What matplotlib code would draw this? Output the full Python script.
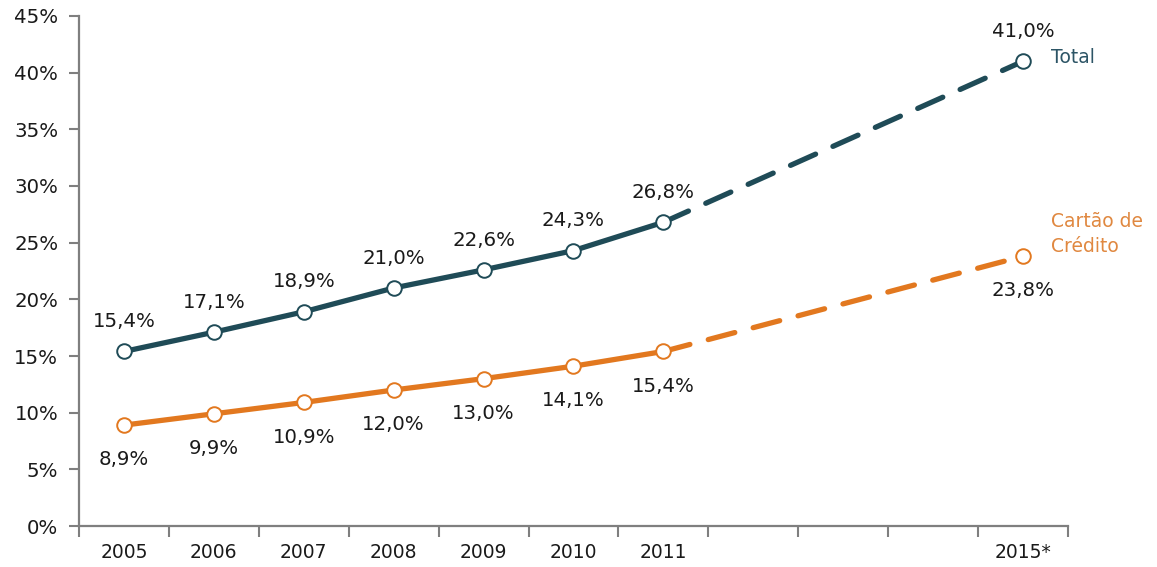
import matplotlib
matplotlib.use("Agg")
import matplotlib.pyplot as plt
import numpy as np

categories = ["2005", "2006", "2007", "2008", "2009", "2010", "2011", "", "", "", "2015*"]
total = [15.4, 17.1, 18.9, 21.0, 22.6, 24.3, 26.8, None, None, None, 41.0]
cartao = [8.9, 9.9, 10.9, 12.0, 13.0, 14.1, 15.4, None, None, None, 23.8]
yticks = [0, 5, 10, 15, 20, 25, 30, 35, 40, 45]

TEAL = "#1f4b57"
ORANGE = "#e2781f"
TEXT = "#1a1a1a"
AXIS = "#7f7f7f"

plt.rcParams['font.family'] = ['DejaVu Sans']

fig = plt.figure(figsize=(11.57, 5.67), dpi=100)
ax = fig.add_axes([0.0683, 0.0723, 0.8547, 0.8995])

x = np.arange(len(categories))

def draw(series, color, label_off):
    idx = [i for i, v in enumerate(series) if v is not None]
    solid = [i for i in idx if i <= 6]
    ax.plot(solid, [series[i] for i in solid], color=color, lw=3.8,
            solid_capstyle='round', zorder=2)
    last = solid[-1]
    fut = idx[-1]
    ax.plot([last, fut], [series[last], series[fut]], color=color, lw=3.8,
            linestyle=(0, (5.2, 3.6)), dash_capstyle='round', zorder=2)
    ax.plot(idx, [series[i] for i in idx], linestyle='none', marker='o',
            markersize=10.5, markerfacecolor='white', markeredgecolor=color,
            markeredgewidth=1.4, zorder=3)
    for i in idx:
        ax.annotate(f"{series[i]:.1f}%".replace('.', ','), (i, series[i]),
                    xytext=(0, label_off), textcoords='offset points',
                    ha='center', va='center', fontsize=14.2, color=TEXT)

draw(total, TEAL, 21.5)
draw(cartao, ORANGE, -25)

ax.annotate("Total", (10, total[10]), xytext=(20, 3), textcoords='offset points',
            ha='left', va='center', fontsize=13.5, color="#2d5566")
ax.annotate("Cartão de\nCrédito", (10, cartao[10]), xytext=(20, 16),
            textcoords='offset points', ha='left', va='center', fontsize=13.5,
            color="#e08840", linespacing=1.4)

ax.set_xlim(-0.5, len(categories) - 0.5)
ax.set_ylim(0, 45)
ax.set_yticks(yticks)
ax.set_yticklabels([f"{t}%" for t in yticks])
ax.set_xticks(np.arange(len(categories) + 1) - 0.5)
ax.set_xticklabels([])
ax.set_xticks(x, minor=True)
ax.set_xticklabels(categories, minor=True)

ax.tick_params(axis='y', direction='out', length=7, width=1.5, color=AXIS,
               pad=8, labelsize=14.2, labelcolor=TEXT)
ax.tick_params(axis='x', which='major', direction='out', length=8, width=1.5,
               color=AXIS)
ax.tick_params(axis='x', which='minor', length=0, pad=12, labelsize=13.5,
               labelcolor=TEXT)

for s in ['top', 'right']:
    ax.spines[s].set_visible(False)
for s in ['left', 'bottom']:
    ax.spines[s].set_color(AXIS)
    ax.spines[s].set_linewidth(1.6)

fig.savefig("out.png", dpi=100, facecolor='white')
